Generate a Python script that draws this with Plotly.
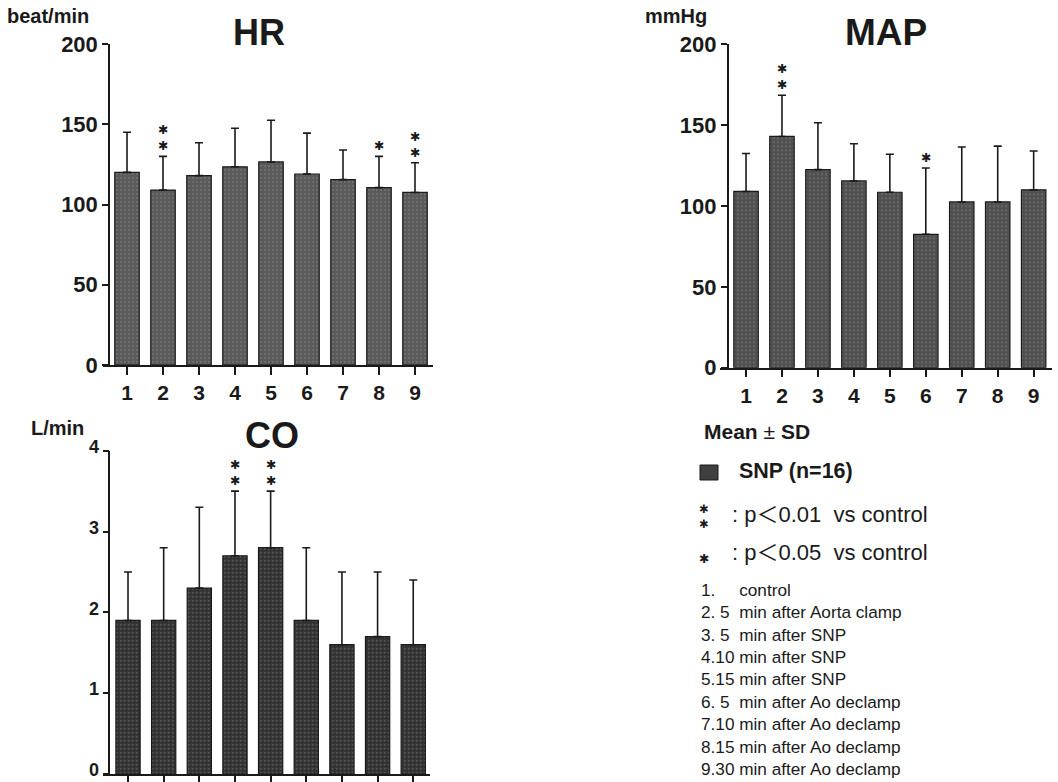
import plotly.graph_objects as go

W, H = 1058, 782

categories = [1, 2, 3, 4, 5, 6, 7, 8, 9]

hr_mean = [120, 109, 118, 123.5, 126.5, 119, 115.5, 110.5, 107.5]
hr_sd = [25, 21, 20.5, 24, 26, 25.5, 18.5, 19.5, 18.5]
hr_sig = [0, 2, 0, 0, 0, 0, 0, 1, 2]

map_mean = [109, 143, 122.5, 115.5, 108.5, 82.5, 102.5, 102.5, 110]
map_sd = [23.5, 25.5, 29, 23, 23.5, 41, 34, 34.5, 24]
map_sig = [0, 2, 0, 0, 0, 1, 0, 0, 0]

co_mean = [1.9, 1.9, 2.3, 2.7, 2.8, 1.9, 1.6, 1.7, 1.6]
co_sd = [0.6, 0.9, 1.0, 0.8, 0.7, 0.9, 0.9, 0.8, 0.8]
co_sig = [0, 0, 0, 2, 2, 0, 0, 0, 0]

hr_ticks = [0, 50, 100, 150, 200]
map_ticks = [0, 50, 100, 150, 200]
co_ticks = [0, 1, 2, 3, 4]

legend_lines = [
    "1.&nbsp;&nbsp;&nbsp;&nbsp; control",
    "2. 5&nbsp; min after Aorta clamp",
    "3. 5&nbsp; min after SNP",
    "4.10 min after SNP",
    "5.15 min after SNP",
    "6. 5&nbsp; min after Ao declamp",
    "7.10 min after Ao declamp",
    "8.15 min after Ao declamp",
    "9.30 min after Ao declamp",
]

FONT = "Liberation Sans, Arial, Helvetica, sans-serif"
STARFONT = "DejaVu Sans, sans-serif"
INK = "#1a1a1a"


def px(x):
    return x / W


def py(y):
    return 1 - y / H


panels = [
    dict(mean=hr_mean, sd=hr_sd, sig=hr_sig, ticks=hr_ticks, xd=(103, 433), yd=(365, 44),
         xr=[0.333, 9.5], ypos=109, yr=[0, 200], color="#5a5a5a", showx=True,
         title="HR", tpos=(259, 32), tsize=36, unit="beat/min", upos=(5, 16), yfs=22, yshift=0),
    dict(mean=map_mean, sd=map_sd, sig=map_sig, ticks=map_ticks, xd=(720, 1052), yd=(367.7, 44.3),
         xr=[0.276, 9.51], ypos=727.7, yr=[0, 200], color="#505050", showx=True,
         title="MAP", tpos=(886, 32), tsize=37, unit="mmHg", upos=(643, 16), yfs=22, yshift=0),
    dict(mean=co_mean, sd=co_sd, sig=co_sig, ticks=co_ticks, xd=(102.7, 430), yd=(774, 450.7),
         xr=[0.29, 9.47], ypos=109.3, yr=[0, 4], color="#313131", showx=False,
         title="CO", tpos=(272, 435), tsize=36, unit="L/min", upos=(29, 428), yfs=18, yshift=-4),
]

fig = go.Figure()
annotations = []
shapes = []

for i, p in enumerate(panels):
    n = "" if i == 0 else str(i + 1)
    fig.add_trace(go.Bar(
        x=categories, y=p["mean"], width=0.68,
        marker=dict(color=p["color"], line=dict(color=INK, width=1.2),
                    pattern=dict(shape=".", fgcolor="#8c8c8c", size=4, solidity=0.2, fillmode="overlay")),
        error_y=dict(type="data", array=p["sd"], arrayminus=[0] * 9, symmetric=False,
                     color=INK, thickness=1.6, width=4),
        xaxis="x" + n, yaxis="y" + n,
        name="SNP (n=16)", showlegend=False,
    ))
    fig.update_layout({
        "xaxis" + n: dict(domain=[px(p["xd"][0]), px(p["xd"][1])], range=p["xr"],
                          anchor="y" + n, showgrid=False, zeroline=False, showline=True,
                          linecolor=INK, linewidth=1.5, ticks="outside", ticklen=8,
                          tickwidth=1.5, tickcolor=INK, tickvals=categories,
                          showticklabels=p["showx"], automargin=False,
                          tickfont=dict(family=FONT, size=21, color=INK, weight="bold"),
                          fixedrange=True),
        "yaxis" + n: dict(domain=[py(p["yd"][0]), py(p["yd"][1])], range=p["yr"],
                          anchor="free", position=px(p["ypos"]), showgrid=False, zeroline=False,
                          showline=True, linecolor=INK, linewidth=1.5, ticks="outside",
                          ticklen=6, tickwidth=1.5, tickcolor=INK, tickvals=p["ticks"],
                          automargin=False, ticklabeloverflow="allow", ticklabelshift=p["yshift"],
                          tickfont=dict(family=FONT, size=p["yfs"], color=INK, weight="bold"),
                          fixedrange=True),
    })
    annotations.append(dict(text="<b>%s</b>" % p["title"], x=px(p["tpos"][0]), y=py(p["tpos"][1]),
                            xref="paper", yref="paper", showarrow=False, xanchor="center",
                            yanchor="middle", font=dict(family=FONT, size=p["tsize"], color=INK)))
    annotations.append(dict(text="<b>%s</b>" % p["unit"], x=px(p["upos"][0]), y=py(p["upos"][1]),
                            xref="paper", yref="paper", showarrow=False, xanchor="left",
                            yanchor="middle", font=dict(family=FONT, size=20, color=INK)))
    for c, m, s, k in zip(categories, p["mean"], p["sd"], p["sig"]):
        if k:
            annotations.append(dict(text="<br>".join(["✱"] * k), x=c, y=m + s, xref="x" + n,
                                    yref="y" + n, showarrow=False, xanchor="center",
                                    yanchor="bottom", yshift=1,
                                    font=dict(family=STARFONT, size=12.5, color=INK)))

# legend block
annotations.append(dict(text="<b>Mean</b> ± <b>SD</b>", x=px(702), y=py(432), xref="paper", yref="paper",
                        showarrow=False, xanchor="left", yanchor="middle",
                        font=dict(family=FONT, size=21, color=INK)))
shapes.append(dict(type="rect", xref="paper", yref="paper", x0=px(700), x1=px(718),
                   y0=py(480), y1=py(465), fillcolor="#3f3f3f", line=dict(color=INK, width=1)))
annotations.append(dict(text="<b>SNP (n=16)</b>", x=px(737), y=py(471), xref="paper", yref="paper",
                        showarrow=False, xanchor="left", yanchor="middle",
                        font=dict(family=FONT, size=21.5, color=INK)))
LEGFONT = "Liberation Sans, Noto Sans CJK JP, sans-serif"
annotations.append(dict(text="✱<br>✱", x=px(704), y=py(516), xref="paper", yref="paper", showarrow=False,
                        xanchor="center", yanchor="middle",
                        font=dict(family=STARFONT, size=11.5, color=INK)))
annotations.append(dict(text="✱", x=px(704), y=py(558), xref="paper", yref="paper", showarrow=False,
                        xanchor="center", yanchor="middle",
                        font=dict(family=STARFONT, size=12.5, color=INK)))
annotations.append(dict(text=": p＜0.01&nbsp; vs control", x=px(730), y=py(514), xref="paper", yref="paper",
                        showarrow=False, xanchor="left", yanchor="middle",
                        font=dict(family=LEGFONT, size=22, color=INK)))
annotations.append(dict(text=": p＜0.05&nbsp; vs control", x=px(730), y=py(552), xref="paper", yref="paper",
                        showarrow=False, xanchor="left", yanchor="middle",
                        font=dict(family=LEGFONT, size=22, color=INK)))
annotations.append(dict(text="<br>".join(legend_lines), x=px(699), y=py(578), xref="paper",
                        yref="paper", showarrow=False, xanchor="left", yanchor="top", align="left",
                        font=dict(family=FONT, size=17.2, color=INK)))

fig.update_layout(
    width=W, height=H, margin=dict(l=0, r=0, t=0, b=0, autoexpand=False),
    paper_bgcolor="white", plot_bgcolor="rgba(0,0,0,0)",
    annotations=annotations, shapes=shapes, showlegend=False,
)

fig.write_html("out.html")
